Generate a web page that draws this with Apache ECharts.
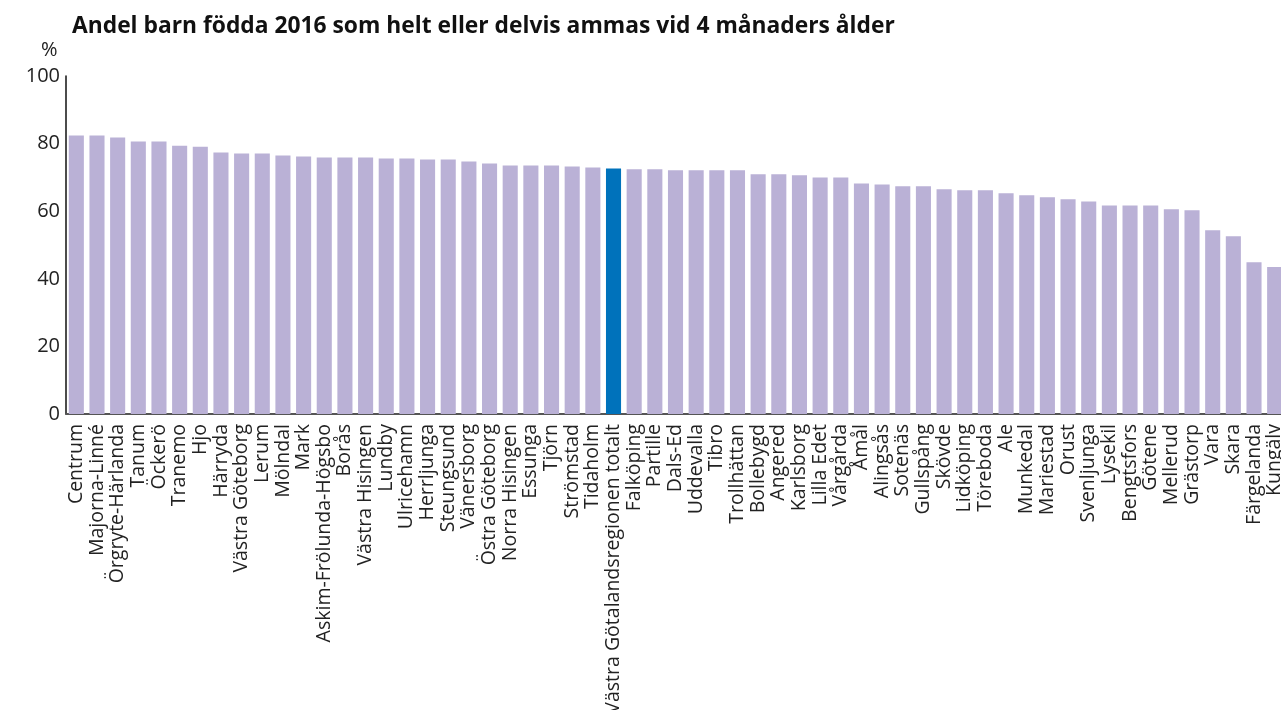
<!DOCTYPE html>
<html lang="sv">
<head>
    <meta charset="UTF-8">
    <title>Amning 4 månader</title>
    <script src="https://cdn.jsdelivr.net/npm/echarts@6/dist/echarts.min.js"></script>
    <style>
        html, body { margin: 0; padding: 0; background: #fff; }
        #main { width: 1281px; height: 710px; }
    </style>
</head>
<body>
<div id="main"></div>
<script>
    // kommuner / stadsdelar, sorterade efter andel
    var omraden = ['Centrum', 'Majorna-Linné', 'Örgryte-Härlanda', 'Tanum', 'Öckerö', 'Tranemo', 'Hjo',
        'Härryda', 'Västra Göteborg', 'Lerum', 'Mölndal', 'Mark', 'Askim-Frölunda-Högsbo', 'Borås',
        'Västra Hisingen', 'Lundby', 'Ulricehamn', 'Herrljunga', 'Steungsund', 'Vänersborg',
        'Östra Göteborg', 'Norra Hisingen', 'Essunga', 'Tjörn', 'Strömstad', 'Tidaholm',
        'Västra Götalandsregionen totalt', 'Falköping', 'Partille', 'Dals-Ed', 'Uddevalla', 'Tibro',
        'Trollhättan', 'Bollebygd', 'Angered', 'Karlsborg', 'Lilla Edet', 'Vårgårda', 'Åmål',
        'Alingsås', 'Sotenäs', 'Gullspång', 'Skövde', 'Lidköping', 'Töreboda', 'Ale', 'Munkedal',
        'Mariestad', 'Orust', 'Svenljunga', 'Lysekil', 'Bengtsfors', 'Götene', 'Mellerud',
        'Grästorp', 'Vara', 'Skara', 'Färgelanda', 'Kungälv'];

    // andel (%) helt eller delvis ammade vid 4 månader
    var andel = [82.4, 82.4, 81.8, 80.6, 80.6, 79.4, 79.1,
        77.4, 77.1, 77.1, 76.5, 76.2, 75.9, 75.9,
        75.9, 75.6, 75.6, 75.3, 75.3, 74.7,
        74.1, 73.5, 73.5, 73.5, 73.2, 72.9,
        72.6, 72.4, 72.4, 72.1, 72.1, 72.1,
        72.1, 70.9, 70.9, 70.6, 70.0, 70.0, 68.2,
        67.9, 67.4, 67.4, 66.5, 66.2, 66.2, 65.3, 64.7,
        64.1, 63.5, 62.9, 61.7, 61.7, 61.7, 60.6,
        60.3, 54.4, 52.6, 44.9, 43.5];

    var yTicks = [0, 20, 40, 60, 80, 100];
    var totalNamn = 'Västra Götalandsregionen totalt';

    var font = '"Open Sans", "DejaVu Sans", sans-serif';

    var myChart = echarts.init(document.getElementById('main'));

    var option = {
        animation: false,
        title: {
            text: 'Andel barn födda 2016 som helt eller delvis ammas vid 4 månaders ålder',
            left: 67,
            top: 10,
            textStyle: { fontFamily: font, fontSize: 22.8, fontWeight: 'bold', color: '#111' }
        },
        graphic: [{
            type: 'text',
            left: 41,
            top: 40,
            style: { text: '%', font: '20px ' + font, fill: '#222' }
        }],
        // étiketterna får gå utanför bilden, som i originalet
        grid: { left: 66, top: 76, width: 1219, height: 338, outerBoundsMode: 'none', containLabel: false },
        xAxis: {
            type: 'category',
            data: omraden,
            axisLine: { lineStyle: { color: '#555', width: 2 } },
            axisTick: { show: false },
            axisLabel: {
                interval: 0,
                rotate: 90,
                margin: 10,
                fontFamily: font,
                fontSize: 19.5,
                color: '#222'
            }
        },
        yAxis: {
            type: 'value',
            min: yTicks[0],
            max: yTicks[yTicks.length - 1],
            interval: 20,
            splitLine: { show: false },
            axisLine: { show: true, lineStyle: { color: '#111', width: 1.5 } },
            axisTick: { show: false },
            axisLabel: { fontFamily: font, fontSize: 20, color: '#222', margin: 6 }
        },
        series: [{
            type: 'bar',
            barCategoryGap: '27%',
            data: andel.map(function (v, i) {
                return {
                    value: v,
                    itemStyle: { color: omraden[i] === totalNamn ? '#0072bb' : '#bab1d6' }
                };
            })
        }]
    };

    myChart.setOption(option);
</script>
</body>
</html>
